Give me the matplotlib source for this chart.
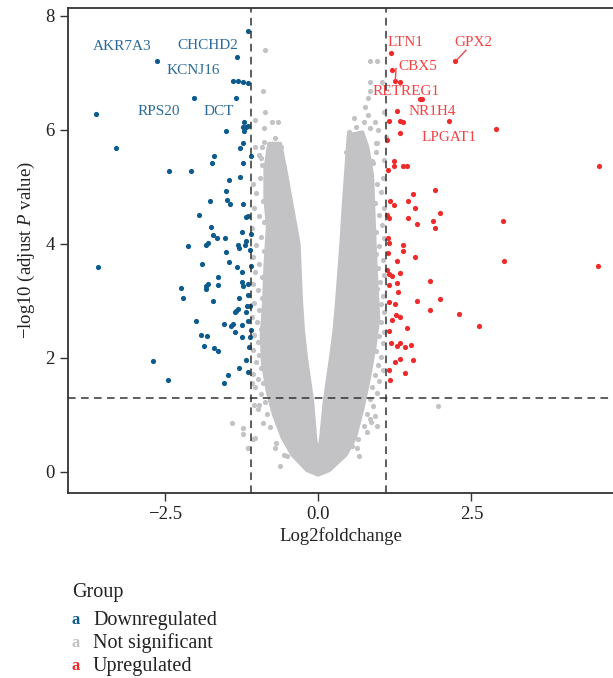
import matplotlib
matplotlib.use("Agg")
import matplotlib.pyplot as plt

plt.rcParams['font.family'] = ['Liberation Serif', 'DejaVu Serif']
plt.rcParams['mathtext.fontset'] = 'custom'
plt.rcParams['mathtext.rm'] = 'Liberation Serif'
plt.rcParams['mathtext.it'] = 'Liberation Serif:italic'

# downregulated genes (log2fc, -log10 adj p)
down_x = [-1.14, -2.63, -1.32, -1.39, -1.30, -1.22, -1.15, -2.02, -1.34, -3.62,
          -1.21, -1.23, -1.17, -1.15, -1.21, -1.51, -1.23, -1.27, -3.30, -1.70,
          -1.73, -1.10, -1.22, -2.43, -2.08, -1.28, -1.45, -1.51, -1.49, -1.43,
          -1.77, -1.23, -1.95, -1.18, -1.14, -1.75, -1.71, -1.65, -1.24, -1.10,
          -1.52, -1.17, -1.20, -2.13, -1.83, -1.79, -1.30, -1.29, -1.11, -1.50,
          -3.59, -1.90, -1.46, -1.32, -1.10, -1.24, -1.63, -1.25, -1.22, -1.15,
          -2.23, -1.79, -1.83, -1.83, -1.63, -2.20, -1.71, -1.29, -1.15, -1.16,
          -1.11, -1.31, -1.34, -1.35, -1.17, -1.99, -1.54, -1.39, -1.42, -1.36,
          -1.25, -1.14, -1.10, -1.91, -1.81, -1.24, -1.11, -1.86, -1.70, -1.64,
          -1.13, -2.69, -1.17, -1.29, -1.14, -1.47, -2.45, -1.53]
down_y = [7.73, 7.20, 7.28, 6.85, 6.85, 6.83, 6.82, 6.56, 6.56, 6.27,
          6.13, 6.04, 6.05, 6.06, 5.98, 5.98, 5.77, 5.67, 5.68, 5.54,
          5.42, 5.54, 5.42, 5.28, 5.28, 5.17, 5.12, 4.93, 4.77, 4.70,
          4.74, 4.70, 4.50, 4.46, 4.49, 4.29, 4.15, 4.10, 4.20, 4.17,
          4.10, 4.04, 3.97, 3.96, 3.98, 4.01, 3.98, 3.92, 3.89, 3.86,
          3.59, 3.65, 3.68, 3.59, 3.60, 3.50, 3.42, 3.32, 3.26, 3.29,
          3.23, 3.29, 3.25, 3.20, 3.28, 3.04, 2.99, 3.05, 3.10, 2.90,
          2.90, 2.85, 2.82, 2.80, 2.80, 2.65, 2.60, 2.60, 2.55, 2.46,
          2.57, 2.65, 2.48, 2.40, 2.38, 2.37, 2.36, 2.21, 2.17, 2.12,
          2.18, 1.95, 1.96, 1.82, 1.75, 1.69, 1.61, 1.55]

# upregulated genes
up_x = [1.19, 2.23, 1.20, 1.26, 1.33, 1.66, 1.70, 1.29, 1.16, 1.33,
        1.39, 2.13, 2.90, 1.34, 1.12, 1.24, 1.23, 1.38, 1.45, 1.14,
        4.58, 1.90, 1.55, 1.17, 1.23, 1.47, 1.58, 1.99, 3.01, 1.12,
        1.15, 1.46, 1.61, 1.88, 1.91, 1.14, 1.15, 1.39, 1.38, 1.14,
        1.58, 1.28, 3.03, 4.57, 1.13, 1.15, 1.21, 1.33, 1.83, 1.28,
        1.15, 1.30, 1.15, 1.26, 1.62, 1.99, 1.83, 2.29, 1.27, 1.34,
        1.21, 2.63, 1.16, 1.45, 1.19, 1.28, 1.34, 1.41, 1.52, 1.26,
        1.34, 1.55, 1.15, 1.41, 1.17]
up_y = [7.35, 7.20, 7.04, 6.85, 6.83, 6.54, 6.54, 6.32, 6.15, 6.15,
        6.13, 6.15, 6.01, 5.94, 5.81, 5.45, 5.37, 5.37, 5.37, 5.30,
        5.37, 4.94, 4.87, 4.75, 4.67, 4.75, 4.62, 4.54, 4.40, 4.50,
        4.45, 4.45, 4.35, 4.39, 4.27, 4.10, 4.02, 3.98, 3.88, 3.84,
        3.77, 3.70, 3.70, 3.61, 3.53, 3.47, 3.44, 3.48, 3.35, 3.31,
        3.28, 3.15, 2.98, 2.94, 2.99, 3.03, 2.83, 2.76, 2.75, 2.72,
        2.66, 2.56, 2.47, 2.52, 2.25, 2.20, 2.25, 2.18, 2.22, 1.92,
        1.98, 1.96, 1.78, 1.74, 1.61]

# not significant: outline of the dense V-shaped core
cloud_x = [-0.80, -0.86, -0.86, -0.82, -0.86, -0.88, -0.92, -0.90, -0.82, -0.72,
           -0.58, -0.42, -0.18, 0.0, 0.18, 0.45, 0.60, 0.72, 0.82, 0.92,
           0.98, 0.95, 0.92, 0.90, 0.88, 0.80, 0.72, 0.50, 0.46, 0.42,
           0.38, 0.31, 0.27, 0.21, 0.11, 0.05, 0.0, -0.05, -0.10, -0.20,
           -0.25, -0.28, -0.32, -0.42, -0.52, -0.62]
cloud_y = [5.75, 5.3, 4.8, 4.3, 3.6, 3.0, 2.4, 1.9, 1.4, 1.0,
           0.6, 0.3, 0.03, -0.05, 0.03, 0.3, 0.6, 1.1, 1.6, 2.2,
           2.7, 3.3, 4.0, 4.6, 5.2, 5.7, 5.95, 5.9, 5.3, 4.7,
           4.0, 3.0, 2.5, 2.0, 1.25, 0.6, 0.22, 0.6, 1.25, 2.0,
           2.5, 3.0, 4.0, 4.6, 5.2, 5.75]

# not significant: scattered genes around the core
ns_x = [-0.86, -0.90, -0.86, -0.89, -0.76, -0.65, -1.03, -1.03, -0.92, -0.89,
        -0.97, -0.73, -0.62, -0.92, -0.76, -0.62, 0.85, 0.96, 0.85, 1.04,
        0.85, 0.81, 0.74, 0.93, 0.85, 0.96, 0.71, 0.60, 0.79, 0.58,
        0.74, 0.90, 1.07, 1.10, 1.07, 0.98, 0.95, -1.40, -1.23, -1.23,
        -1.06, -1.15, -1.08, -1.04, -0.97, 1.96, 0.93, 0.96, 0.79, 0.66,
        0.85, 0.63, -1.03, -1.14, -0.62, -0.70, -0.51,
        # left fringe
        -1.07, -0.95, -1.01, -0.90, -1.05, -0.97, -0.88, -1.08, -0.94, -1.02,
        -0.89, -1.06, -0.97, -1.03, -0.91, -1.07, -0.98, -0.92, -1.04, -0.96,
        -1.08, -1.00, -0.94, -1.05, -0.98, -1.07, -0.96, -1.02, -0.94, -1.06,
        -0.98, -0.90, -1.03, -0.93, -0.87, -0.98, -0.84, -0.90, -0.78, -0.68,
        -0.55, -0.70, -0.60, -0.55, -0.50, -0.93, -0.45,
        # right fringe
        1.06, 0.96, 1.02, 0.93, 1.07, 0.99, 1.04, 0.95, 1.08, 1.00,
        0.94, 1.05, 0.98, 1.07, 1.01, 0.96, 1.06, 1.02, 1.08, 1.03,
        1.07, 0.99, 1.05, 0.95, 1.02, 0.97, 1.06, 0.92, 1.00, 0.88,
        0.96, 0.85, 0.90, 0.80, 0.86, 0.74, 0.65, 0.55, 0.50, 0.62,
        0.95, 0.70, 0.82, 0.45, 0.88, 0.58, 0.76]
ns_y = [7.40, 6.67, 6.31, 6.02, 6.13, 6.13, 6.16, 5.70, 5.70, 5.79,
        5.55, 5.67, 5.52, 5.38, 5.32, 5.41, 7.20, 7.20, 6.83, 6.83,
        6.68, 6.56, 6.13, 6.13, 6.02, 5.76, 5.64, 5.52, 5.47, 5.38,
        5.35, 5.41, 5.47, 5.87, 6.31, 5.99, 5.76, 0.85, 0.76, 0.67,
        0.58, 0.41, 1.56, 1.18, 1.18, 1.16, 0.98, 0.80, 0.69, 0.28,
        0.92, 0.42, 0.60, 0.42, 0.10, 0.42, 0.28,
        5.05, 5.15, 4.88, 4.75, 4.62, 4.48, 4.38, 4.28, 4.12, 3.98,
        3.88, 3.76, 3.64, 3.50, 3.42, 3.30, 3.18, 3.05, 2.96, 2.84,
        2.72, 2.62, 2.50, 2.40, 2.28, 2.14, 2.05, 1.92, 1.82, 1.72,
        1.62, 1.55, 1.48, 1.36, 1.22, 1.10, 1.02, 0.86, 0.78, 0.50,
        0.30, 5.85, 5.70, 5.35, 4.90, 5.50, 4.40,
        5.15, 5.05, 4.90, 4.72, 4.62, 4.50, 4.33, 4.20, 4.10, 3.96,
        3.82, 3.72, 3.58, 3.45, 3.32, 3.20, 3.08, 2.95, 2.80, 2.62,
        2.45, 2.38, 2.25, 2.12, 2.02, 1.88, 1.78, 1.70, 1.60, 1.48,
        1.38, 1.28, 1.15, 1.02, 0.88, 0.80, 0.58, 0.45, 5.95, 6.05,
        5.60, 5.80, 6.25, 5.60, 5.45, 6.20, 6.40]

down_labels = ['AKR7A3', 'CHCHD2', 'KCNJ16', 'RPS20', 'DCT']
down_lab_x = [-3.20, -1.80, -2.04, -2.60, -1.62]
down_lab_y = [7.45, 7.48, 7.03, 6.31, 6.31]
up_labels = ['LTN1', 'GPX2', 'CBX5', 'RETREG1', 'NR1H4', 'LPGAT1']
up_lab_x = [1.43, 2.54, 1.63, 1.43, 1.86, 2.14]
up_lab_y = [7.53, 7.53, 7.11, 6.67, 6.32, 5.87]

fc_cut = 1.1
p_cut = 1.3

groups = ['Downregulated', 'Not significant', 'Upregulated']
colors = ['#0d5b8c', '#c3c3c6', '#ee2a2a']
label_colors = ['#2b6b9b', '#f04545']

fig = plt.figure(figsize=(6.13, 6.78), dpi=100)
ax = fig.add_axes([0.111, 0.273, 0.889, 0.715])

ax.fill(cloud_x, cloud_y, color=colors[1], ec=colors[1], lw=3, joinstyle='round', zorder=1)
ax.scatter(ns_x, ns_y, s=14, color=colors[1], lw=0, zorder=2)
ax.scatter(down_x, down_y, s=14, color=colors[0], lw=0, zorder=3)
ax.scatter(up_x, up_y, s=14, color=colors[2], lw=0, zorder=3)

for lab, x, y in zip(down_labels, down_lab_x, down_lab_y):
    ax.text(x, y, lab, color=label_colors[0], fontsize=11, ha='center', va='center', zorder=4)
for lab, x, y in zip(up_labels, up_lab_x, up_lab_y):
    ax.text(x, y, lab, color=label_colors[1], fontsize=11, ha='center', va='center', zorder=4)
# repel segments
ax.plot([2.41, 2.27], [7.39, 7.23], color=label_colors[1], lw=1, zorder=4)
ax.plot([1.27, 1.26], [7.07, 6.88], color=label_colors[1], lw=1, zorder=4)

dash = dict(color='#333333', lw=1.1, ls=(0, (5, 3.5)), zorder=5)
ax.axvline(-fc_cut, **dash)
ax.axvline(fc_cut, **dash)
ax.axhline(p_cut, **dash)

ax.set_xlim(-4.08, 4.81)
ax.set_ylim(-0.37, 8.13)
ax.set_xticks([-2.5, 0, 2.5])
ax.set_xticklabels(['\u22122.5', '0.0', '2.5'])
ax.set_yticks([0, 2, 4, 6, 8])
ax.tick_params(labelsize=13.5, length=6, width=1, color='#333333', labelcolor='#222222')
ax.set_xlabel('Log2foldchange', fontsize=13.5, color='#222222', labelpad=3)
ax.set_ylabel('\u2212log10 (adjust $\\mathit{P}$ value)', fontsize=13.5, color='#222222', labelpad=6)
for side in ['left', 'bottom', 'top']:
    ax.spines[side].set_linewidth(1.3)
    ax.spines[side].set_color('#333333')
ax.spines['right'].set_visible(False)

# legend
fig.text(72 / 613, 1 - 593 / 678, 'Group', fontsize=14.5, color='#222222', va='center')
for i, g in enumerate(groups):
    yy = 1 - (620 + 23 * i) / 678
    fig.text(76 / 613, yy, 'a', fontsize=12, fontweight='bold', color=colors[i], ha='center', va='center')
    fig.text(93 / 613, yy, g, fontsize=14.5, color='#222222', va='center')

fig.savefig('out.png', dpi=100)
